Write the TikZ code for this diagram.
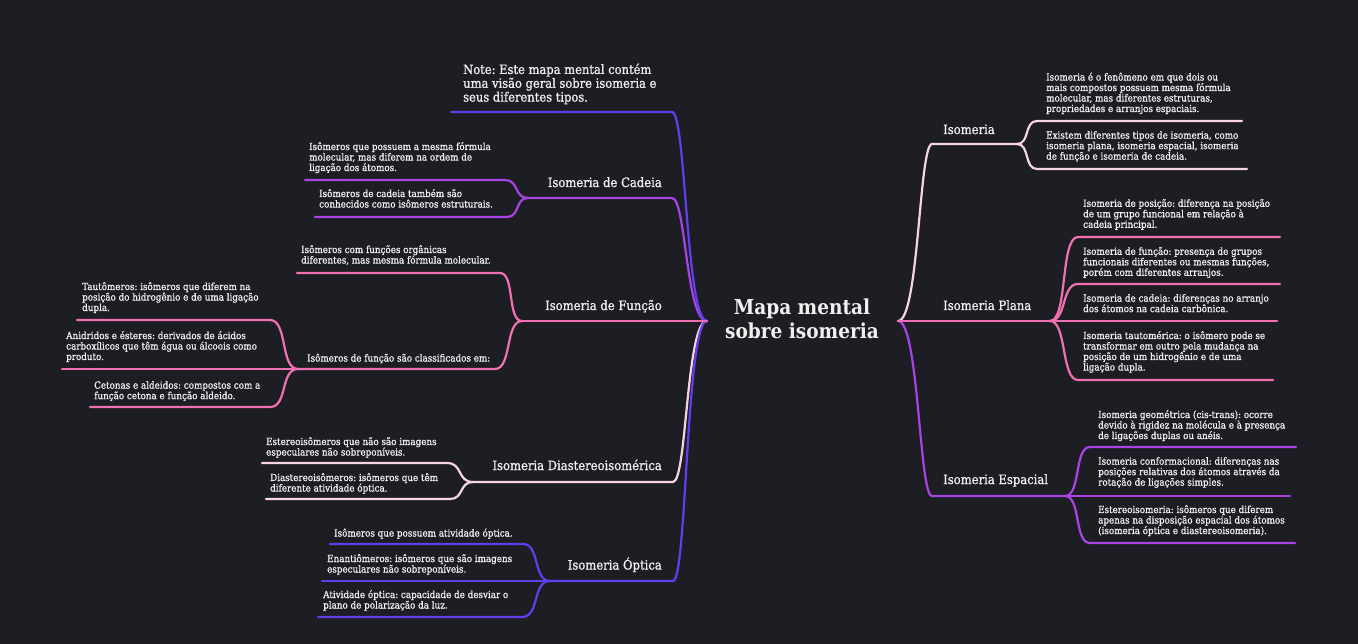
\documentclass[tikz,border=0pt]{standalone}
\usepackage{fontspec}
\setmainfont{DejaVu Serif Condensed}
\newfontfamily\medfam{DejaVu Serif Condensed}[FakeBold=1]
\frenchspacing
\definecolor{bg}{RGB}{29,30,35}
\definecolor{txt}{RGB}{240,240,240}
\definecolor{cBlue}{RGB}{100,62,236}
\definecolor{cPurple}{RGB}{168,68,228}
\definecolor{cPink}{RGB}{240,112,178}
\definecolor{cLight}{RGB}{246,212,224}
\newcommand\subf{\medfam\fontsize{9.75}{10.5}\selectfont}
\newcommand\lblf{\medfam\fontsize{12.9}{15}\selectfont}
\newcommand\notef{\medfam\fontsize{12.8}{13.8}\selectfont}
\newcommand\rootf{\fontsize{20.6}{24}\selectfont\bfseries}
\tikzset{
  conn/.style={line width=2.2pt, line cap=round, line join=round},
  subtxt/.style={font=\subf, text=txt, align=left, inner sep=0pt, anchor=north west},
  lbl/.style={font=\lblf, text=txt, inner sep=0pt},
  roottxt/.style={font=\rootf, text=txt, align=center, inner sep=0pt, anchor=north}
}
\begin{document}
\begin{tikzpicture}[x=1pt,y=-1pt]
\fill[bg] (0,0) rectangle (1358,644);
% junctions
\coordinate (JL) at (707,321);
\coordinate (JR) at (898,321);
% left side coordinates
\coordinate (noteC) at (672,112); \coordinate (noteE) at (451,112);
\coordinate (cadC) at (672,198); \coordinate (cadS) at (528,198);
\coordinate (cad1R) at (505,180); \coordinate (cad1L) at (305,180);
\coordinate (cad2R) at (507,217); \coordinate (cad2L) at (315,217);
\coordinate (funS) at (522,321);
\coordinate (fun1R) at (500,273); \coordinate (fun1L) at (297,273);
\coordinate (fun2R) at (495,369); \coordinate (fun2S) at (298,369);
\coordinate (tautR) at (270,320); \coordinate (tautL) at (77,320);
\coordinate (anidL) at (62,369);
\coordinate (cetR) at (270,407); \coordinate (cetL) at (90,407);
\coordinate (diaC) at (673,482); \coordinate (diaS) at (473,482);
\coordinate (dia1R) at (447,463); \coordinate (dia1L) at (262,463);
\coordinate (dia2R) at (450,499); \coordinate (dia2L) at (266,499);
\coordinate (optC) at (673,581); \coordinate (optS) at (550,581);
\coordinate (opt1R) at (523,544); \coordinate (opt1L) at (330,544);
\coordinate (opt2L) at (322,581);
\coordinate (opt3R) at (522,617); \coordinate (opt3L) at (318,617);
% right side coordinates
\coordinate (isoC) at (932,144); \coordinate (isoS) at (1017,144);
\coordinate (iso1L) at (1037,121); \coordinate (iso1R) at (1242,121);
\coordinate (iso2L) at (1037,169); \coordinate (iso2R) at (1247,169);
\coordinate (plaS) at (1050,321);
\coordinate (pla1L) at (1078,237); \coordinate (pla1R) at (1280,237);
\coordinate (pla2L) at (1078,284); \coordinate (pla2R) at (1280,284);
\coordinate (pla3R) at (1277,321);
\coordinate (pla4L) at (1078,380); \coordinate (pla4R) at (1273,380);
\coordinate (espC) at (932,496); \coordinate (espS) at (1065,496);
\coordinate (esp1L) at (1090,447); \coordinate (esp1R) at (1296,447);
\coordinate (esp2R) at (1290,496);
\coordinate (esp3L) at (1090,543); \coordinate (esp3R) at (1295,543);

% ---------- left connectors
\draw[conn,cLight] (JL) .. controls +(-21,0) and +(14,0) .. (diaC) -- (diaS);
\draw[conn,cLight] (diaS) .. controls +(-16,0) and +(16,0) .. (dia1R) -- (dia1L);
\draw[conn,cLight] (diaS) .. controls +(-14,0) and +(14,0) .. (dia2R) -- (dia2L);
\draw[conn,cBlue] (JL) .. controls +(-21,0) and +(14,0) .. (optC) -- (optS);
\draw[conn,cBlue] (optS) .. controls +(-17,0) and +(17,0) .. (opt1R) -- (opt1L);
\draw[conn,cBlue] (optS) -- (opt2L);
\draw[conn,cBlue] (optS) .. controls +(-18,0) and +(18,0) .. (opt3R) -- (opt3L);
\draw[conn,cPurple] (JL) .. controls +(-21,0) and +(14,0) .. (cadC) -- (cadS);
\draw[conn,cPurple] (cadS) .. controls +(-14,0) and +(14,0) .. (cad1R) -- (cad1L);
\draw[conn,cPurple] (cadS) .. controls +(-13,0) and +(13,0) .. (cad2R) -- (cad2L);
\draw[conn,cBlue] (JL) .. controls +(-21,0) and +(14,0) .. (noteC) -- (noteE);
\draw[conn,cPink] (JL) -- (funS);
\draw[conn,cPink] (funS) .. controls +(-15,0) and +(15,0) .. (fun1R) -- (fun1L);
\draw[conn,cPink] (funS) .. controls +(-17,0) and +(17,0) .. (fun2R) -- (fun2S);
\draw[conn,cPink] (fun2S) .. controls +(-18,0) and +(18,0) .. (tautR) -- (tautL);
\draw[conn,cPink] (fun2S) -- (anidL);
\draw[conn,cPink] (fun2S) .. controls +(-18,0) and +(18,0) .. (cetR) -- (cetL);

% ---------- right connectors
\draw[conn,cLight] (JR) .. controls +(21,0) and +(-13,0) .. (isoC) -- (isoS);
\draw[conn,cLight] (isoS) .. controls +(13,0) and +(-13,0) .. (iso1L) -- (iso1R);
\draw[conn,cLight] (isoS) .. controls +(13,0) and +(-13,0) .. (iso2L) -- (iso2R);
\draw[conn,cPurple] (JR) .. controls +(21,0) and +(-13,0) .. (espC) -- (espS);
\draw[conn,cPurple] (espS) .. controls +(16,0) and +(-16,0) .. (esp1L) -- (esp1R);
\draw[conn,cPurple] (espS) -- (esp2R);
\draw[conn,cPurple] (espS) .. controls +(16,0) and +(-16,0) .. (esp3L) -- (esp3R);
\draw[conn,cPink] (JR) -- (plaS);
\draw[conn,cPink] (plaS) .. controls +(18,0) and +(-18,0) .. (pla1L) -- (pla1R);
\draw[conn,cPink] (plaS) .. controls +(17,0) and +(-17,0) .. (pla2L) -- (pla2R);
\draw[conn,cPink] (plaS) -- (pla3R);
\draw[conn,cPink] (plaS) .. controls +(17,0) and +(-17,0) .. (pla4L) -- (pla4R);

% ---------- root
\node[roottxt] (root) at (802,299) {Mapa mental\\sobre isomeria};

% ---------- labels
\node[lbl, anchor=base west] (lIso) at (943,134) {Isomeria};
\node[lbl, anchor=base west] (lPla) at (943,310) {Isomeria Plana};
\node[lbl, anchor=base west] (lEsp) at (943,484) {Isomeria Espacial};
\node[lbl, anchor=base east] (lCad) at (662,187) {Isomeria de Cadeia};
\node[lbl, anchor=base east] (lFun) at (662,310) {Isomeria de Função};
\node[lbl, anchor=base east] (lDia) at (662,470) {Isomeria Diastereoisomérica};
\node[lbl, anchor=base east] (lOpt) at (662,569.5) {Isomeria Óptica};

% ---------- note
\node[font=\notef, text=txt, align=left, inner sep=0pt, anchor=north west] (note) at (463,63.5)
  {Note: Este mapa mental contém\\uma visão geral sobre isomeria e\\seus diferentes tipos.};

% ---------- left texts
\node[subtxt] (tCad1) at (309,142) {Isômeros que possuem a mesma fórmula\\molecular, mas diferem na ordem de\\ligação dos átomos.};
\node[subtxt] (tCad2) at (319,189) {Isômeros de cadeia também são\\conhecidos como isômeros estruturais.};
\node[subtxt] (tFun1) at (301,245) {Isômeros com funções orgânicas\\diferentes, mas mesma fórmula molecular.};
\node[subtxt, anchor=base west] (tFun2) at (307,361.5) {Isômeros de função são classificados em:};
\node[subtxt] (tTaut) at (82,282) {Tautômeros: isômeros que diferem na\\posição do hidrogênio e de uma ligação\\dupla.};
\node[subtxt] (tAnid) at (66,331) {Anidridos e ésteres: derivados de ácidos\\carboxílicos que têm água ou álcoois como\\produto.};
\node[subtxt] (tCet) at (94,381) {Cetonas e aldeidos: compostos com a\\função cetona e função aldeido.};
\node[subtxt] (tDia1) at (266,437) {Estereoisômeros que não são imagens\\especulares não sobreponíveis.};
\node[subtxt] (tDia2) at (270,473) {Diastereoisômeros: isômeros que têm\\diferente atividade óptica.};
\node[subtxt, anchor=base west] (tOpt1) at (334,536.5) {Isômeros que possuem atividade óptica.};
\node[subtxt] (tOpt2) at (327,554) {Enantiômeros: isômeros que são imagens\\especulares não sobreponíveis.};
\node[subtxt] (tOpt3) at (323,590) {Atividade óptica: capacidade de desviar o\\plano de polarização da luz.};

% ---------- right texts
\node[subtxt] (tIso1) at (1046,72.5) {Isomeria é o fenômeno em que dois ou\\mais compostos possuem mesma fórmula\\molecular, mas diferentes estruturas,\\propriedades e arranjos espaciais.};
\node[subtxt] (tIso2) at (1046,131) {Existem diferentes tipos de isomeria, como\\isomeria plana, isomeria espacial, isomeria\\de função e isomeria de cadeia.};
\node[subtxt] (tPla1) at (1083,199) {Isomeria de posição: diferença na posição\\de um grupo funcional em relação à\\cadeia principal.};
\node[subtxt] (tPla2) at (1083,247) {Isomeria de função: presença de grupos\\funcionais diferentes ou mesmas funções,\\porém com diferentes arranjos.};
\node[subtxt] (tPla3) at (1083,294) {Isomeria de cadeia: diferenças no arranjo\\dos átomos na cadeia carbônica.};
\node[subtxt] (tPla4) at (1083,331) {Isomeria tautomérica: o isômero pode se\\transformar em outro pela mudança na\\posição de um hidrogênio e de uma\\ligação dupla.};
\node[subtxt] (tEsp1) at (1098,410) {Isomeria geométrica (cis-trans): ocorre\\devido à rigidez na molécula e à presença\\de ligações duplas ou anéis.};
\node[subtxt] (tEsp2) at (1098,457) {Isomeria conformacional: diferenças nas\\posições relativas dos átomos através da\\rotação de ligações simples.};
\node[subtxt] (tEsp3) at (1098,505) {Estereoisomeria: isômeros que diferem\\apenas na disposição espacial dos átomos\\(isomeria óptica e diastereoisomeria).};
\end{tikzpicture}
\end{document}
